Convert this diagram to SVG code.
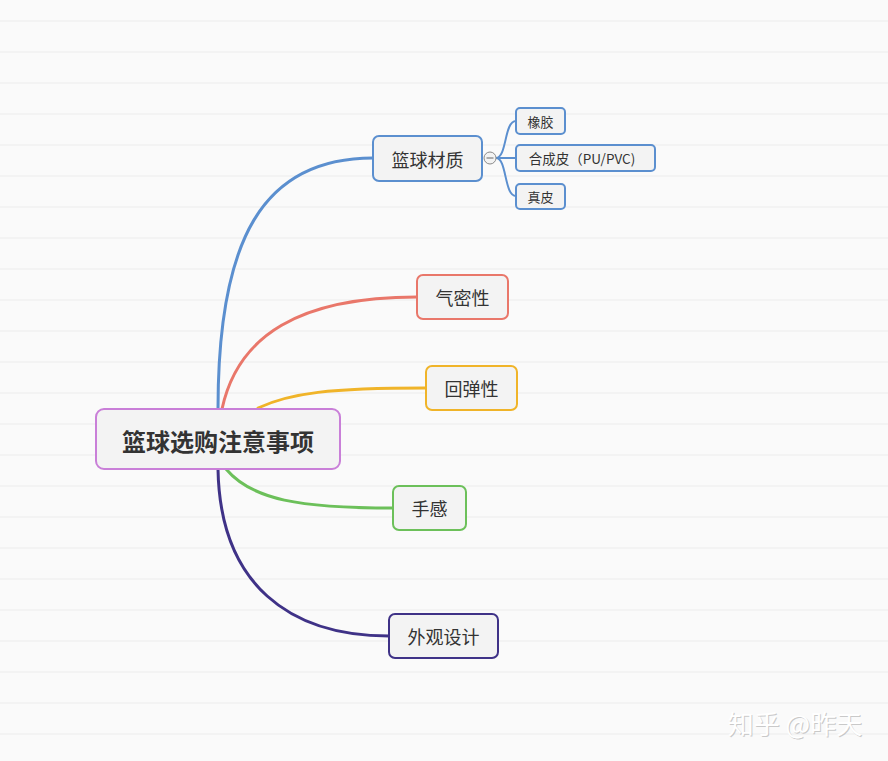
<svg xmlns="http://www.w3.org/2000/svg" width="888" height="761" viewBox="0 0 888 761">
<defs>
<pattern id="bg" x="0" y="0" width="888" height="31" patternUnits="userSpaceOnUse">
<rect width="888" height="31" fill="#fafafa"/>
<rect y="20" width="888" height="2" fill="#f3f3f3"/>
</pattern>
</defs>
<style>
text{font-family:"Noto Sans CJK SC","Microsoft YaHei",sans-serif;fill:#333;text-anchor:middle;dominant-baseline:central}
.node rect{fill:#f3f3f3;stroke-width:2}
.c{fill:none;stroke-width:3;stroke-linecap:round}
.s{fill:none;stroke-width:2;stroke:#5b8fcf}
</style>
<rect width="888" height="761" fill="url(#bg)"/>
<g id="connectors">
<path class="c" stroke="#5b8fcf" d="M218,409 C218,240 262,158 373,158"/>
<path class="c" stroke="#e9776a" d="M222,409 C238,335 300,297 417,297"/>
<path class="c" stroke="#f0b429" d="M258,408 C290,393 330,388 426,388"/>
<path class="c" stroke="#6cc05a" d="M226,469 C252,500 300,508 393,508"/>
<path class="c" stroke="#3f3287" d="M218,469 C220,585 290,636 389,636"/>
<path class="s" d="M496,158 C507,158 504,121 516,121"/>
<path class="s" d="M496,158 L516,158"/>
<path class="s" d="M496,158 C507,158 504,196 516,196"/>
</g>
<g id="root" class="node">
<rect x="96" y="409" width="244" height="60" rx="8" stroke="#c97fd8"/>
<text x="218" y="440" font-size="24" font-weight="bold">篮球选购注意事项</text>
</g>
<g id="n-material" class="node">
<rect x="373" y="136" width="109" height="45" rx="6" stroke="#5b8fcf"/>
<text x="427.5" y="158.5" font-size="18">篮球材质</text>
</g>
<g id="collapse">
<circle cx="490" cy="158" r="6" fill="#f3f3f3" stroke="#8a8a8a" stroke-width="1"/>
<line x1="486.5" y1="158" x2="493.5" y2="158" stroke="#666" stroke-width="1"/>
</g>
<g id="n-rubber" class="node">
<rect x="516" y="108" width="49" height="26" rx="4" stroke="#5b8fcf"/>
<text x="540.5" y="121" font-size="13">橡胶</text>
</g>
<g id="n-synthetic" class="node">
<rect x="516" y="145" width="139" height="26" rx="4" stroke="#5b8fcf"/>
<text x="582" y="158" font-size="13.5">合成皮（PU/PVC)</text>
</g>
<g id="n-leather" class="node">
<rect x="516" y="184" width="49" height="25" rx="4" stroke="#5b8fcf"/>
<text x="540.5" y="196.5" font-size="13">真皮</text>
</g>
<g id="n-airtight" class="node">
<rect x="417" y="275" width="91" height="44" rx="6" stroke="#e9776a"/>
<text x="462.5" y="297" font-size="18">气密性</text>
</g>
<g id="n-rebound" class="node">
<rect x="426" y="366" width="91" height="44" rx="6" stroke="#f0b429"/>
<text x="471.5" y="388" font-size="18">回弹性</text>
</g>
<g id="n-feel" class="node">
<rect x="393" y="486" width="73" height="44" rx="6" stroke="#6cc05a"/>
<text x="429.5" y="508" font-size="18">手感</text>
</g>
<g id="n-design" class="node">
<rect x="389" y="614" width="109" height="44" rx="6" stroke="#3f3287"/>
<text x="443.5" y="636" font-size="18">外观设计</text>
</g>
<g id="watermark">
<text x="796" y="723" font-size="26" style="fill:#9a9a9a;opacity:0.5">知乎 @昨天</text>
<text x="795" y="722" font-size="26" style="fill:#ffffff">知乎 @昨天</text>
</g>
</svg>
